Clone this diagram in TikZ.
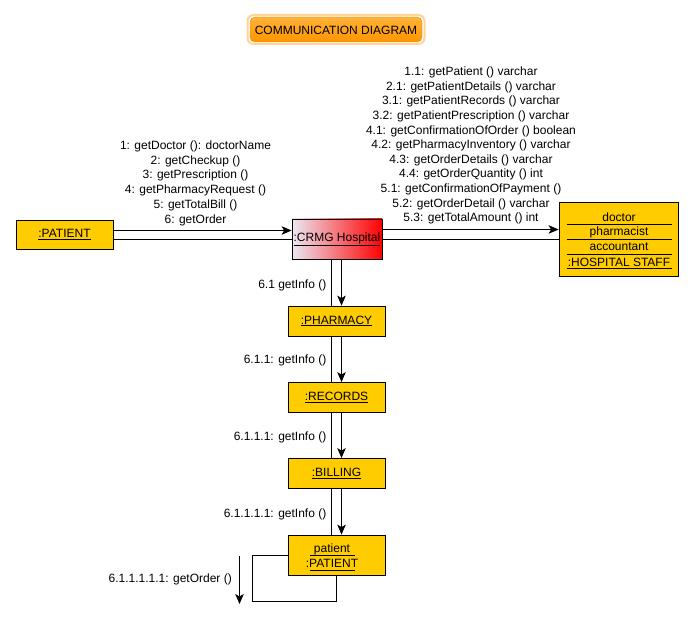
\documentclass[tikz,border=0pt]{standalone}
\usepackage{fontspec}
\setmainfont{Liberation Sans}
\usetikzlibrary{arrows.meta}
\definecolor{boxgold}{HTML}{FFCC00}
\definecolor{titletop}{HTML}{FFB23A}
\definecolor{titlebot}{HTML}{FF9500}
\definecolor{titleglow}{HTML}{FFD39A}
\definecolor{titleedge}{HTML}{F28A00}
\definecolor{hospleft}{HTML}{ECE8F4}
\tikzset{
  every node/.style={font=\fontsize{12}{14}\selectfont},
  obj/.style={draw=black, fill=boxgold, line width=0.8pt, inner sep=0pt, align=center},
  msg/.style={inner sep=0pt, anchor=base},
  link/.style={draw=black, line width=0.8pt},
  flow/.style={link, -{Stealth[length=10pt,width=8.5pt,inset=2.5pt]}},
  sep/.style={draw=black, line width=0.7pt},
}
\begin{document}
\begin{tikzpicture}[x=1pt, y=-1pt]
\useasboundingbox (0,0) rectangle (694,620);

% heading
\draw[titleglow, line width=2pt, rounded corners=6pt] (247.5,15) rectangle (424.5,44);
\shade[top color=titletop, bottom color=titlebot, rounded corners=5pt, draw=titleedge, line width=0.4pt]
  (250,17) rectangle (422,42);
\node (title) at (336,30) {COMMUNICATION DIAGRAM};

% objects
\node[obj, minimum width=97pt, minimum height=29pt] (patient) at (64.5,234.5) {\underline{:PATIENT}};
\node[draw=black, line width=0.8pt, left color=hospleft, right color=red, inner sep=0pt,
      minimum width=90pt, minimum height=40pt] (crmg) at (337,239) {\underline{:CRMG Hospital}};
\node[obj, minimum width=119pt, minimum height=74pt] (staff) at (618.5,239.5) {};
\node[obj, minimum width=97pt, minimum height=30pt] (pharmacy) at (336.5,321) {\underline{:PHARMACY}};
\node[obj, minimum width=97pt, minimum height=30pt] (records) at (336.5,397.5) {\underline{:RECORDS}};
\node[obj, minimum width=97pt, minimum height=30pt] (billing) at (336.5,473.5) {\underline{:BILLING}};
\node[obj, minimum width=97pt, minimum height=40pt] (patobj) at (336.5,555) {};

% compartments of the staff object
\node (sd) at (619,217) {doctor};
\node (sp) at (619,232) {pharmacist};
\node (sa) at (619,247) {accountant};
\node (sh) at (619,262) {:HOSPITAL STAFF};
\foreach \yy in {224.5,239.5,254.5,268.5}
  \draw[sep] (566.5,\yy) -- (671.5,\yy);

% compartments of the patient object
\node (pp) at (332,549) {patient};
\node (pc) at (332,563.5) {:PATIENT};
\draw[sep] (309.5,555.5) -- (354.5,555.5);
\draw[sep] (309.5,570) -- (354.5,570);

% links between objects
\draw[flow] (patient.east |- 0,230.5) -- (crmg.west |- 0,230.5);
\draw[link] (patient.east |- 0,239.5) -- (crmg.west |- 0,239.5);
\draw[flow] (crmg.east |- 0,229.5) -- (staff.west |- 0,229.5);
\draw[link] (crmg.east |- 0,239) -- (staff.west |- 0,239);

\draw[link] (crmg.south -| 331.5,0) -- (pharmacy.north -| 331.5,0);
\draw[flow] (crmg.south -| 341.5,0) -- (pharmacy.north -| 341.5,0);
\draw[link] (pharmacy.south -| 331.5,0) -- (records.north -| 331.5,0);
\draw[flow] (pharmacy.south -| 341.5,0) -- (records.north -| 341.5,0);
\draw[link] (records.south -| 331.5,0) -- (billing.north -| 331.5,0);
\draw[flow] (records.south -| 341.5,0) -- (billing.north -| 341.5,0);
\draw[link] (billing.south -| 331.5,0) -- (patobj.north -| 331.5,0);
\draw[flow] (billing.south -| 341.5,0) -- (patobj.north -| 341.5,0);

% self link of the patient object
\coordinate (loopa) at (252.5,555);
\coordinate (loopb) at (252.5,601);
\coordinate (loopc) at (336.5,601);
\draw[link] (patobj.west |- loopa) -- (loopa) -- (loopb) -- (loopc) -- (patobj.south -| loopc);
\coordinate (ordtop) at (239.5,556);
\coordinate (ordend) at (239.5,604);
\draw[flow] (ordtop) -- (ordend);

% messages from the patient
\foreach \t [count=\i] in {{1: getDoctor (): doctorName},{2: getCheckup ()},{3: getPrescription ()},
    {4: getPharmacyRequest ()},{5: getTotalBill ()},{6: getOrder}}
  \node[msg] (pm\i) at (195.5,{149.3+(\i-1)*14.8}) {\t};

% messages to the staff
\foreach \t [count=\i] in {{1.1: getPatient () varchar},{2.1: getPatientDetails () varchar},
    {3.1: getPatientRecords () varchar},{3.2: getPatientPrescription () varchar},
    {4.1: getConfirmationOfOrder () boolean},{4.2: getPharmacyInventory () varchar},
    {4.3: getOrderDetails () varchar},{4.4: getOrderQuantity () int},
    {5.1: getConfirmationOfPayment ()},{5.2: getOrderDetail () varchar},
    {5.3: getTotalAmount () int}}
  \node[msg] (sm\i) at (471,{75.8+(\i-1)*14.58}) {\t};

% messages down the chain
\node[msg, anchor=base east] (m1) at (326.5,289) {6.1 getInfo ()};
\node[msg, anchor=base east] (m2) at (326.5,364) {6.1.1: getInfo ()};
\node[msg, anchor=base east] (m3) at (326.5,440.5) {6.1.1.1: getInfo ()};
\node[msg, anchor=base east] (m4) at (326.5,517) {6.1.1.1.1: getInfo ()};
\node[msg, anchor=base east] (m5) at (232,582.5) {6.1.1.1.1.1: getOrder ()};
\end{tikzpicture}
\end{document}
